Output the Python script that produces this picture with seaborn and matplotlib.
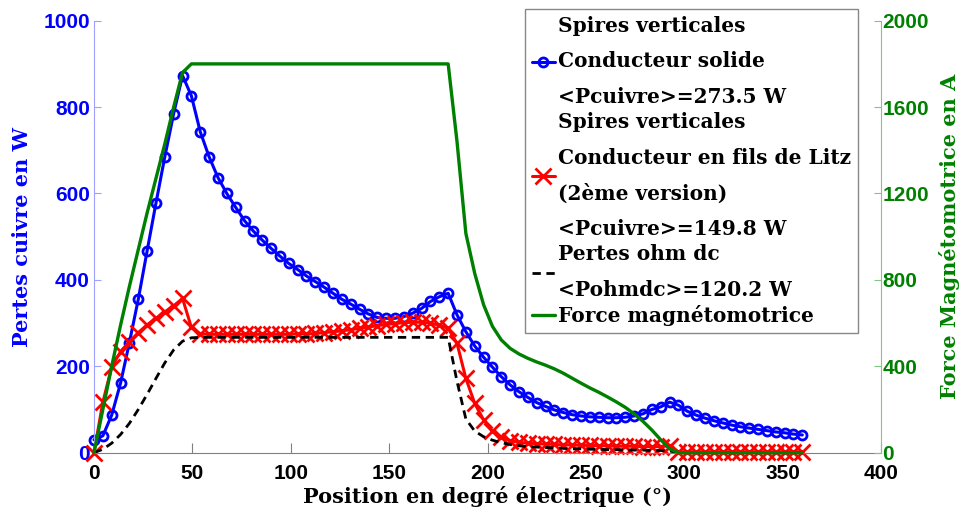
import numpy as np
import pandas as pd
import matplotlib
matplotlib.use("Agg")
import matplotlib.pyplot as plt
import seaborn as sns

# angle grid (degrés électriques), pas de 4.5°
position = np.linspace(0, 360, 81)

p_solide = [30, 39, 87, 161, 255, 355, 467, 578, 685, 785,
            873, 826, 743, 685, 637, 600, 568, 537, 513, 492,
            473, 455, 438, 424, 409, 396, 383, 369, 355, 344,
            332, 321, 313, 311, 311, 315, 323, 334, 350, 361,
            369, 319, 280, 247, 221, 198, 176, 157, 141, 128,
            116, 107, 99, 93, 88, 85, 83, 82, 81, 81,
            82, 85, 90, 100, 106, 117, 110, 96, 87, 80,
            74, 69, 64, 60, 57, 54, 51, 48, 46, 43,
            41]

p_litz = [0, 117, 198, 234, 257, 278, 296, 311, 326, 340,
          357, 290, 275, 274, 274, 274, 274, 274, 274, 274,
          274, 274, 274, 275, 275, 276, 278, 280, 282, 285,
          288, 291, 294, 297, 299, 301, 302, 302, 300, 295,
          288, 253, 172, 114, 76, 50, 36, 28, 24, 22,
          21, 20, 19, 18, 18, 17, 17, 16, 16, 15,
          15, 15, 14, 14, 14, 16, 2, 2, 2, 2,
          2, 2, 2, 2, 2, 2, 2, 2, 2, 2,
          2]

p_ohm_dc = [0, 8, 22, 42, 68, 100, 135, 172, 208, 238,
            258, 266, 267, 267, 267, 267, 267, 267, 267, 267,
            267, 267, 267, 267, 267, 267, 267, 267, 267, 267,
            267, 267, 267, 267, 267, 267, 267, 267, 267, 267,
            267, 165, 78, 50, 37, 29, 23, 19, 16, 14,
            13, 12, 11, 10, 9, 9, 8, 8, 7, 7,
            6, 6, 6, 5, 5, 4, 0, 0, 0, 0,
            0, 0, 0, 0, 0, 0, 0, 0, 0, 0,
            0]

fmm = [0, 200, 400, 590, 770, 940, 1110, 1270, 1430, 1600,
       1760, 1800, 1800, 1800, 1800, 1800, 1800, 1800, 1800, 1800,
       1800, 1800, 1800, 1800, 1800, 1800, 1800, 1800, 1800, 1800,
       1800, 1800, 1800, 1800, 1800, 1800, 1800, 1800, 1800, 1800,
       1800, 1440, 1015, 830, 685, 585, 522, 483, 457, 437,
       420, 405, 388, 368, 345, 322, 300, 280, 258, 235,
       210, 180, 145, 105, 60, 18, 0, 0, 0, 0,
       0, 0, 0, 0, 0, 0, 0, 0, 0, 0,
       0]

labels = ["Spires verticales\nConducteur solide\n<Pcuivre>=273.5 W",
          "Spires verticales\nConducteur en fils de Litz\n(2ème version)\n<Pcuivre>=149.8 W",
          "Pertes ohm dc\n<Pohmdc>=120.2 W",
          "Force magnétomotrice"]

df = pd.DataFrame({"pos": position, "solide": p_solide, "litz": p_litz,
                   "ohm": p_ohm_dc, "fmm": fmm})

sns.set_style("white")
plt.rcParams["font.family"] = ["DejaVu Serif"]
plt.rcParams["text.color"] = "black"
plt.rcParams["axes.labelcolor"] = "black"

BLUE = "#0000ff"
RED = "#ff0000"
GREEN = "#008000"
SERIF = "DejaVu Serif"
SANS = "Liberation Sans"

fig = plt.figure(figsize=(9.63, 5.11), dpi=100)
ax = fig.add_axes([0.0976, 0.1141, 0.8173, 0.8454])
ax2 = ax.twinx()

sns.lineplot(data=df, x="pos", y="solide", ax=ax, color=BLUE, lw=2.2,
             marker="o", ms=6.5, mfc="none", mec=BLUE, mew=2, clip_on=False,
             label=labels[0], legend=False)
sns.lineplot(data=df, x="pos", y="litz", ax=ax, color=RED, lw=2.2,
             marker="x", ms=12, mec=RED, mew=2, clip_on=False,
             label=labels[1], legend=False)
sns.lineplot(data=df, x="pos", y="ohm", ax=ax, color="black", lw=2,
             ls=(0, (3, 2)), clip_on=False, label=labels[2], legend=False)
sns.lineplot(data=df, x="pos", y="fmm", ax=ax2, color=GREEN, lw=2.4,
             clip_on=False, label=labels[3], legend=False)

ax.set_xlim(0, 400)
ax.set_ylim(0, 1000)
ax2.set_ylim(0, 2000)
ax.set_xticks(np.arange(0, 401, 50))
ax.set_yticks(np.arange(0, 1001, 200))
ax2.set_yticks(np.arange(0, 2001, 400))

ax.set_xlabel("Position en degré électrique (°)", fontsize=15,
              fontweight="bold", family=SERIF, color="black", labelpad=2)
ax.set_ylabel("Pertes cuivre en W", fontsize=15, fontweight="bold",
              family=SERIF, color=BLUE, labelpad=8)
ax2.set_ylabel("Force Magnétomotrice en A", fontsize=15, fontweight="bold",
               family=SERIF, color=GREEN, labelpad=7)

for a in (ax, ax2):
    a.spines["top"].set_visible(False)
    a.grid(False)
ax.spines["bottom"].set_color("#808080")
ax.spines["left"].set_color("#a0a0ff")
ax.spines["right"].set_visible(False)
ax2.spines["left"].set_visible(False)
ax2.spines["bottom"].set_visible(False)
ax2.spines["right"].set_color("#80c880")

ax.tick_params(axis="x", direction="in", length=7, color="#808080",
               pad=8, labelsize=15, labelcolor="black", bottom=True)
ax.tick_params(axis="y", direction="in", length=5, color="#a0a0ff",
               pad=3, labelsize=15, labelcolor=BLUE, left=True)
ax2.tick_params(axis="y", direction="in", length=5, color="#80c880",
                pad=1, labelsize=15, labelcolor=GREEN, right=True)
for lab in ax.get_xticklabels() + ax.get_yticklabels() + ax2.get_yticklabels():
    lab.set_family(SANS)
    lab.set_fontweight("bold")

h1, l1 = ax.get_legend_handles_labels()
h2, l2 = ax2.get_legend_handles_labels()
leg = ax2.legend(h1 + h2, l1 + l2, loc="upper right",
                 bbox_to_anchor=(858 / 963, 1 - 9 / 511),
                 bbox_transform=fig.transFigure, borderaxespad=0,
                 fancybox=False, framealpha=1, edgecolor="#888888",
                 numpoints=1, handlelength=1.15, handletextpad=0.15,
                 labelspacing=0.27, borderpad=0.35,
                 prop={"family": SERIF, "weight": "bold", "size": 14.5})
leg.get_frame().set_linewidth(1)
for t in leg.get_texts():
    t.set_linespacing(1.96)
    t.set_color("black")

fig.savefig("out.png", dpi=100)
